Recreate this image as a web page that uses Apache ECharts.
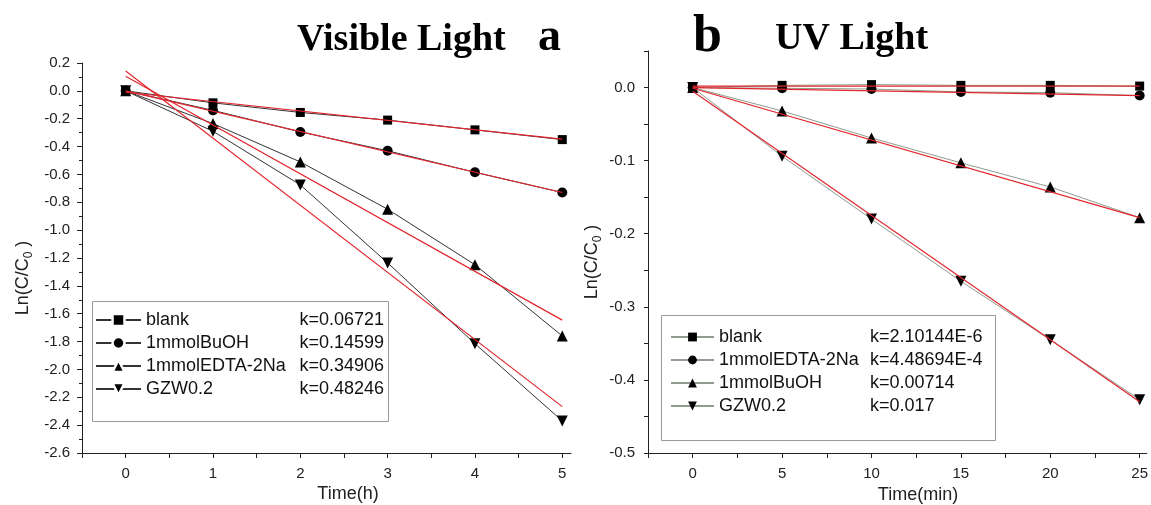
<!DOCTYPE html>
<html><head><meta charset="utf-8">
<script src="https://cdn.jsdelivr.net/npm/echarts@6/dist/echarts.min.js"></script>
<style>html,body{margin:0;padding:0;background:#fff}#c{width:1151px;height:505px}</style>
</head><body><div id="c"></div>
<script>
// ---- Panel a: Visible Light ----
const timeA = [0, 1, 2, 3, 4, 5];
const blankA = [0, -0.086, -0.155, -0.21, -0.28, -0.35];
const buohA = [0, -0.14, -0.295, -0.43, -0.585, -0.73];
const edtaA = [0, -0.235, -0.51, -0.85, -1.248, -1.76];
const gzwA = [0, -0.29, -0.675, -1.235, -1.815, -2.37];
const fitTimeA = [0, 5];
const blankFitA = [-0.01, -0.346];
const buohFitA = [0.0, -0.73];
const edtaFitA = [0.105, -1.646];
const gzwFitA = [0.143, -2.267];
const namesA = ['blank', '1mmolBuOH', '1mmolEDTA-2Na', 'GZW0.2'];
const kA = ['k=0.06721', 'k=0.14599', 'k=0.34906', 'k=0.48246'];
const xTicksA = [-0.5, 0, 0.5, 1, 1.5, 2, 2.5, 3, 3.5, 4, 4.5, 5];
const xLabelsA = [0, 1, 2, 3, 4, 5];

// ---- Panel b: UV Light ----
const timeB = [0, 5, 10, 15, 20, 25];
const blankB = [0, 0.003, 0.004, 0.003, 0.003, 0.002];
const edtaB = [0, -0.001, -0.002, -0.006, -0.007, -0.011];
const buohB = [0, -0.032, -0.069, -0.103, -0.136, -0.178];
const gzwB = [0, -0.094, -0.18, -0.265, -0.345, -0.427];
const fitTimeB = [0, 25];
const blankFitB = [0.002, 0.002];
const edtaFitB = [0.0, -0.011];
const buohFitB = [-0.001, -0.178];
const gzwFitB = [-0.005, -0.43];
const namesB = ['blank', '1mmolEDTA-2Na', '1mmolBuOH', 'GZW0.2'];
const kB = ['k=2.10144E-6', 'k=4.48694E-4', 'k=0.00714', 'k=0.017'];
const xTicksB = [-2.5, 0, 2.5, 5, 7.5, 10, 12.5, 15, 17.5, 20, 22.5, 25];
const xLabelsB = [0, 5, 10, 15, 20, 25];

const FONT = 'Arial, "Liberation Sans", sans-serif';
const SERIF = '"Times New Roman", "Liberation Serif", serif';
const RED = '#e3262e';

const pairs = (xs, ys) => xs.map((x, i) => [x, ys[i]]);
const symA = [['rect', 9, 0], ['circle', 10, 0], ['triangle', 11, 0], ['triangle', 11, 180]];
const symB = [['rect', 9, 0], ['circle', 10, 0], ['triangle', 11, 0], ['triangle', 11, 180]];

function dataSeries(prefix, names, xs, ys, syms, gi, lineColor) {
  return names.map((n, i) => ({
    name: prefix + n, type: 'line', xAxisIndex: gi, yAxisIndex: gi,
    data: pairs(xs, ys[i]), symbol: syms[i][0], symbolSize: syms[i][1], symbolRotate: syms[i][2],
    lineStyle: { color: lineColor, width: 1 }, itemStyle: { color: '#000' },
    z: 2, animation: false
  }));
}
function fitSeries(prefix, names, xs, ys, gi) {
  return names.map((n, i) => ({
    name: prefix + n + ' fit', type: 'line', xAxisIndex: gi, yAxisIndex: gi,
    data: pairs(xs, ys[i]), symbol: 'none', silent: true,
    lineStyle: { color: RED, width: 1.2 }, z: 3, animation: false
  }));
}

const axisCommon = {
  type: 'value',
  axisLine: { show: true, onZero: false, lineStyle: { color: '#222', width: 1 } },
  axisTick: { show: true, inside: false, length: 5, lineStyle: { color: '#222' } },
  splitLine: { show: false },
  axisLabel: { fontFamily: FONT, fontSize: 15, color: '#222' }
};
const fmt1 = v => Math.abs(v) < 1e-9 ? '0.0' : v.toFixed(1);

function legend(prefix, names, ks, left, top, nameW, kW, kAlign, itemW, itemH, gapBorder) {
  const lg = {
    orient: 'vertical', left: left, top: top, padding: 0,
    itemWidth: itemW, itemHeight: itemH, itemGap: 3, selectedMode: false,
    data: names.map(n => prefix + n),
    formatter: function (name) {
      const i = names.indexOf(name.slice(prefix.length));
      return '{n|' + names[i] + '}{k|' + ks[i] + '}';
    },
    textStyle: {
      fontFamily: FONT, fontSize: 18, color: '#111', lineHeight: 20,
      rich: {
        n: { fontFamily: FONT, fontSize: 18, color: '#111', width: nameW, lineHeight: 20 },
        k: { fontFamily: FONT, fontSize: 18, color: '#111', width: kW, align: kAlign, lineHeight: 20 }
      }
    }
  };
  if (gapBorder) lg.itemStyle = { borderColor: '#fff', borderWidth: gapBorder };
  return lg;
}

const chart = echarts.init(document.getElementById('c'), null, { renderer: 'canvas' });
chart.setOption({
  animation: false,
  backgroundColor: '#fff',
  grid: [
    { left: 82, top: 63, width: 489, height: 390 },
    { left: 648, top: 51, width: 501, height: 402 }
  ],
  xAxis: [
    Object.assign({}, axisCommon, {
      gridIndex: 0, min: -0.5, max: 5.1,
      axisTick: Object.assign({}, axisCommon.axisTick, { customValues: xTicksA }),
      axisLabel: Object.assign({}, axisCommon.axisLabel, { customValues: xLabelsA, margin: 13, formatter: v => String(v) })
    }),
    Object.assign({}, axisCommon, {
      gridIndex: 1, min: -2.5, max: 25.4,
      axisTick: Object.assign({}, axisCommon.axisTick, { customValues: xTicksB }),
      axisLabel: Object.assign({}, axisCommon.axisLabel, { customValues: xLabelsB, margin: 13, formatter: v => String(v) })
    })
  ],
  yAxis: [
    Object.assign({}, axisCommon, {
      gridIndex: 0, min: -2.6, max: 0.2, interval: 0.2,
      minorTick: { show: true, splitNumber: 2, length: 3, lineStyle: { color: '#222' } },
      axisLabel: Object.assign({}, axisCommon.axisLabel, { margin: 12, formatter: fmt1 })
    }),
    Object.assign({}, axisCommon, {
      gridIndex: 1, min: -0.5, max: 0.05, interval: 0.05,
      axisTick: Object.assign({}, axisCommon.axisTick, { length: 4 }),
      axisLabel: Object.assign({}, axisCommon.axisLabel, {
        margin: 13,
        formatter: v => {
          const t = Math.round(v * 100);
          if (t > 0 || t % 10 !== 0) return '';
          return fmt1(t / 100);
        }
      })
    })
  ],
  legend: [
    legend('A ', namesA, kA, 95, 310, 148, 90, 'right', 45, 15, 2.5),
    legend('B ', namesB, kB, 670, 327, 151, 125, 'left', 43, 11, 0)
  ],
  graphic: [
    { type: 'rect', shape: { x: 92.5, y: 301.5, width: 296, height: 120 }, style: { fill: 'none', stroke: '#999', lineWidth: 1 }, z: 1 },
    { type: 'rect', shape: { x: 661.5, y: 315.5, width: 334, height: 125 }, style: { fill: 'none', stroke: '#999', lineWidth: 1 }, z: 1 },
    { type: 'text', x: 297, y: 40.5, style: { text: 'Visible Light', fontFamily: SERIF, fontWeight: 'bold', fontSize: 38, fill: '#000', align: 'left', verticalAlign: 'middle' } },
    { type: 'text', x: 538, y: 38, style: { text: 'a', fontFamily: SERIF, fontWeight: 'bold', fontSize: 46, fill: '#000', align: 'left', verticalAlign: 'middle' } },
    { type: 'text', x: 693, y: 38, style: { text: 'b', fontFamily: SERIF, fontWeight: 'bold', fontSize: 52, fill: '#000', align: 'left', verticalAlign: 'middle' } },
    { type: 'text', x: 775, y: 39.5, style: { text: 'UV Light', fontFamily: SERIF, fontWeight: 'bold', fontSize: 38, fill: '#000', align: 'left', verticalAlign: 'middle' } },
    { type: 'text', x: 348, y: 494, style: { text: 'Time(h)', fontFamily: FONT, fontSize: 18, fill: '#222', align: 'center', verticalAlign: 'middle' } },
    { type: 'text', x: 918, y: 495, style: { text: 'Time(min)', fontFamily: FONT, fontSize: 18, fill: '#222', align: 'center', verticalAlign: 'middle' } },
    { type: 'text', x: 23, y: 278, rotation: Math.PI / 2, style: {
        text: '{m|Ln(C/C}{s|0}{m| )}', align: 'center', verticalAlign: 'middle',
        rich: { m: { fontFamily: FONT, fontSize: 18, fill: '#222', lineHeight: 24, verticalAlign: 'middle' },
                s: { fontFamily: FONT, fontSize: 12, fill: '#222', lineHeight: 12, verticalAlign: 'bottom' } } } },
    { type: 'text', x: 592, y: 262, rotation: Math.PI / 2, style: {
        text: '{m|Ln(C/C}{s|0}{m| )}', align: 'center', verticalAlign: 'middle',
        rich: { m: { fontFamily: FONT, fontSize: 18, fill: '#222', lineHeight: 24, verticalAlign: 'middle' },
                s: { fontFamily: FONT, fontSize: 12, fill: '#222', lineHeight: 12, verticalAlign: 'bottom' } } } }
  ],
  series: [].concat(
    dataSeries('A ', namesA, timeA, [blankA, buohA, edtaA, gzwA], symA, 0, '#333'),
    fitSeries('A ', namesA, fitTimeA, [blankFitA, buohFitA, edtaFitA, gzwFitA], 0),
    dataSeries('B ', namesB, timeB, [blankB, edtaB, buohB, gzwB], symB, 1, '#8f9c8f'),
    fitSeries('B ', namesB, fitTimeB, [blankFitB, edtaFitB, buohFitB, gzwFitB], 1)
  )
});
</script>
</body></html>
